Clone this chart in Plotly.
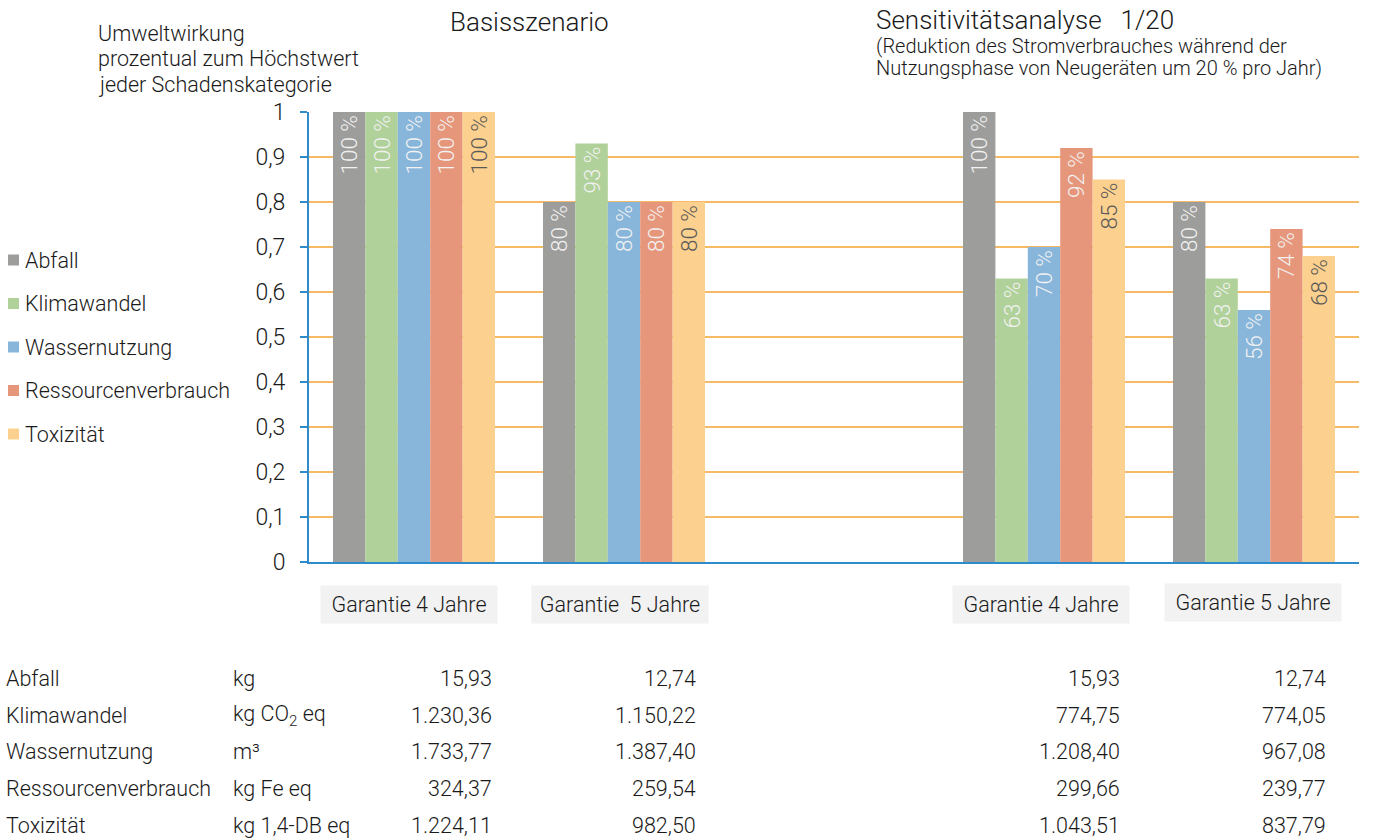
import plotly.graph_objects as go

# ---- data -------------------------------------------------------------
categories = ["Abfall", "Klimawandel", "Wassernutzung", "Ressourcenverbrauch", "Toxizität"]
units = ["kg", "kg CO<sub>2</sub> eq", "m³", "kg Fe eq", "kg 1,4-DB eq"]
colors = ["#9D9D9C", "#B0D19A", "#88B5DA", "#E6967A", "#FCD08E"]
label_colors = ["#F2F2F2", "#F2F2F2", "#F2F2F2", "#F2F2F2", "#595959"]

group_labels = ["Garantie 4 Jahre", "Garantie  5 Jahre", "Garantie 4 Jahre", "Garantie 5 Jahre"]
group_pos = [0, 1, 3, 4]   # slot 2 stays empty between the two scenarios

# share of the maximum per impact category, in percent (per group: G4 base, G5 base, G4 sens., G5 sens.)
pct_abfall = [100, 80, 100, 80]
pct_klima = [100, 93, 63, 63]
pct_wasser = [100, 80, 70, 56]
pct_ressourcen = [100, 80, 92, 74]
pct_tox = [100, 80, 85, 68]
pct_series = [pct_abfall, pct_klima, pct_wasser, pct_ressourcen, pct_tox]

# absolute values per impact category (same group order)
abs_abfall = [15.93, 12.74, 15.93, 12.74]
abs_klima = [1230.36, 1150.22, 774.75, 774.05]
abs_wasser = [1733.77, 1387.40, 1208.40, 967.08]
abs_ressourcen = [324.37, 259.54, 299.66, 239.77]
abs_tox = [1224.11, 982.50, 1043.51, 837.79]
abs_series = [abs_abfall, abs_klima, abs_wasser, abs_ressourcen, abs_tox]

y_tickvals = [0, 0.1, 0.2, 0.3, 0.4, 0.5, 0.6, 0.7, 0.8, 0.9, 1]
y_ticktext = ["0", "0,1", "0,2", "0,3", "0,4", "0,5", "0,6", "0,7", "0,8", "0,9", "1"]

# ---- layout geometry (pixels) ----------------------------------------
W, H = 1373, 840
L, R, T, B = 309, 1359, 112, 562
FONT = "Roboto"
TXT = "#1A1A1A"
BODY = 21.5


def px(x):
    return (x - L) / (R - L)


def py(y):
    return (B - y) / (B - T)


def de_num(v):
    s = f"{v:,.2f}"
    return s.replace(",", "X").replace(".", ",").replace("X", ".")


def font(size):
    return dict(family=FONT, size=size, color=TXT, weight=300)


fig = go.Figure()
for name, vals, col, lc in zip(categories, pct_series, colors, label_colors):
    fig.add_trace(go.Bar(
        name=name,
        x=group_pos,
        y=[v / 100 for v in vals],
        text=[f"{v} %" for v in vals],
        textposition="inside",
        insidetextanchor="end",
        textangle=-90,
        constraintext="none",
        textfont=dict(family=FONT, size=22.5, color=lc, weight=300),
        marker=dict(color=col, line=dict(width=0)),
        showlegend=False,
        hoverinfo="skip",
    ))

annotations = []
shapes = []

# titles
annotations.append(dict(text="Basisszenario", x=px(529), y=py(22), xref="paper", yref="paper",
                        xanchor="center", yanchor="middle", showarrow=False, font=font(26)))
annotations.append(dict(text="Sensitivitätsanalyse   1/20", x=px(874), y=py(20), xref="paper", yref="paper",
                        xanchor="left", yanchor="middle", showarrow=False, font=font(26)))
for i, line in enumerate(["(Reduktion des Stromverbrauches während der",
                          "Nutzungsphase von Neugeräten um 20 % pro Jahr)"]):
    annotations.append(dict(text=line, x=px(874), y=py(46 + 22 * i), xref="paper", yref="paper",
                            xanchor="left", yanchor="middle", showarrow=False, font=font(20)))

# y-axis caption
for i, line in enumerate(["Umweltwirkung", "prozentual zum Höchstwert", "jeder Schadenskategorie"]):
    annotations.append(dict(text=line, x=px(96), y=py(33 + 25.5 * i), xref="paper", yref="paper",
                            xanchor="left", yanchor="middle", showarrow=False, font=font(BODY)))

# legend
for i, (name, col) in enumerate(zip(categories, colors)):
    yc = 260 + 43.5 * i
    shapes.append(dict(type="rect", xref="paper", yref="paper",
                       x0=px(8), x1=px(19), y0=py(yc + 5.5), y1=py(yc - 5.5),
                       fillcolor=col, line=dict(width=0)))
    annotations.append(dict(text=name, x=px(23), y=py(yc), xref="paper", yref="paper",
                            xanchor="left", yanchor="middle", showarrow=False, font=font(BODY)))

# category boxes under the bars
box_shift = [-5, -4, -3, -1]
box_y = [604.5, 604.5, 604.5, 602.5]
for pos, lab, sh, yb in zip(group_pos, group_labels, box_shift, box_y):
    annotations.append(dict(text=lab, x=pos, xref="x", y=py(yb), yref="paper", xshift=sh,
                            xanchor="center", yanchor="middle", showarrow=False,
                            width=176, height=37, bgcolor="#F2F2F2", borderpad=0, font=font(BODY)))

# table of absolute values
row_y = [678, 715, 751, 788, 825]
col_right = [494, 698, 1122, 1328]
for name, unit, vals, yr in zip(categories, units, abs_series, row_y):
    annotations.append(dict(text=name, x=px(4), y=py(yr), xref="paper", yref="paper",
                            xanchor="left", yanchor="middle", showarrow=False, font=font(BODY)))
    annotations.append(dict(text=unit, x=px(231), y=py(yr), xref="paper", yref="paper",
                            xanchor="left", yanchor="middle", showarrow=False, font=font(BODY)))
    for v, xr in zip(vals, col_right):
        annotations.append(dict(text=de_num(v), x=px(xr), y=py(yr), xref="paper", yref="paper",
                                xanchor="right", yanchor="middle", showarrow=False, font=font(BODY)))

AXIS_BLUE = "#2E8CCB"
GRID = "#F6BA66"

fig.update_layout(
    width=W, height=H,
    margin=dict(l=L, r=W - R, t=T, b=H - B, pad=0),
    paper_bgcolor="white", plot_bgcolor="white",
    barmode="group", bargap=0.2286, bargroupgap=0,
    font=dict(family=FONT, color=TXT),
    xaxis=dict(range=[-0.5, 4.5], showticklabels=False, ticks="", showgrid=False,
               zeroline=False, showline=True, linecolor=AXIS_BLUE, linewidth=2, fixedrange=True),
    yaxis=dict(range=[0, 1], tickvals=y_tickvals, ticktext=y_ticktext,
               ticks="outside", ticklen=7, tickwidth=1.5, tickcolor=AXIS_BLUE,
               ticklabelstandoff=10,
               showline=True, linecolor=AXIS_BLUE, linewidth=2,
               showgrid=True, gridcolor=GRID, gridwidth=1.5, zeroline=False,
               tickfont=font(23), fixedrange=True),
    annotations=annotations,
    shapes=shapes,
    showlegend=False,
)

fig.write_html("out.html")
